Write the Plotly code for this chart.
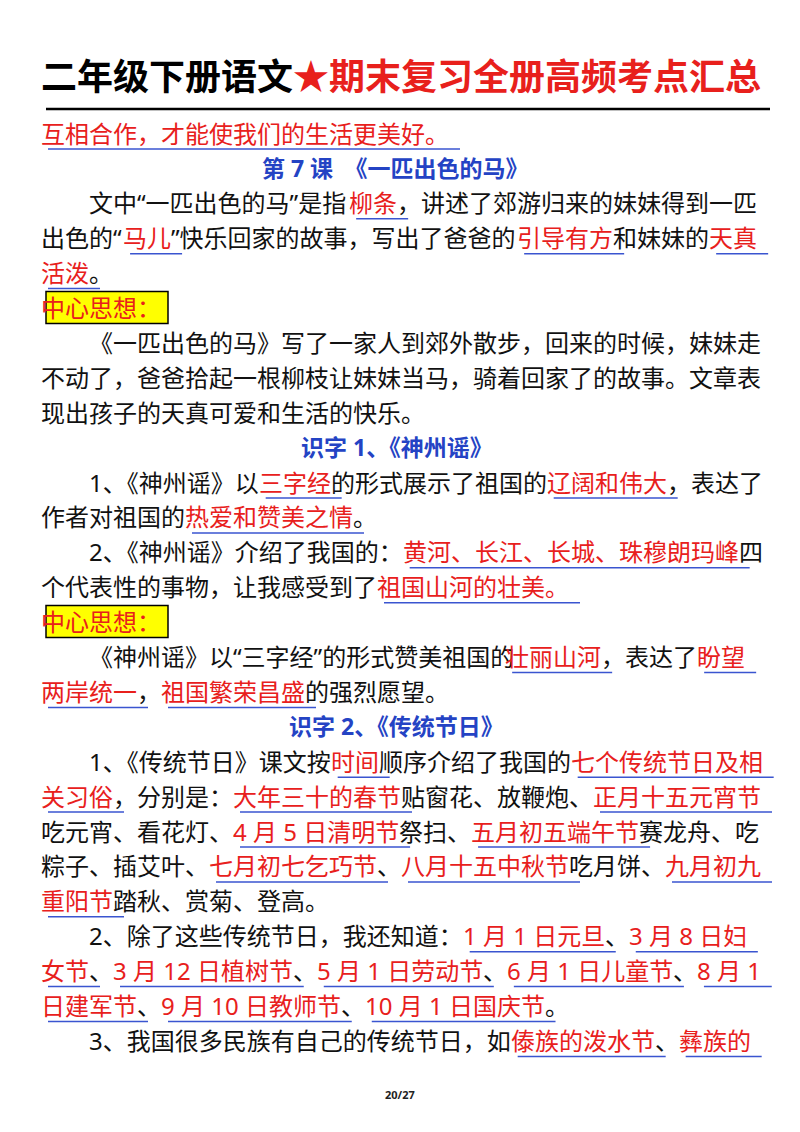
import re
import plotly.graph_objects as go

# page text; [ ... ] marks red, underlined words
title_black = "二年级下册语文"
title_red = "★期末复习全册高频考点汇总"
body_lines = [
    ("red", "[互相合作，才能使我们的生活更美好。]"),
    ("head", "第 7 课　《一匹出色的马》"),
    ("indent", "文中“一匹出色的马”是指[柳条]，讲述了郊游归来的妹妹得到一匹"),
    ("text", "出色的“[马儿]”快乐回家的故事，写出了爸爸的[引导有方]和妹妹的[天真]"),
    ("text", "[活泼]。"),
    ("box", "中心思想："),
    ("indent", "《一匹出色的马》写了一家人到郊外散步，回来的时候，妹妹走"),
    ("text", "不动了，爸爸拾起一根柳枝让妹妹当马，骑着回家了的故事。文章表"),
    ("text", "现出孩子的天真可爱和生活的快乐。"),
    ("head", "识字 1、《神州谣》"),
    ("indent", "1、《神州谣》以[三字经]的形式展示了祖国的[辽阔和伟大]，表达了"),
    ("text", "作者对祖国的[热爱和赞美之情]。"),
    ("indent", "2、《神州谣》介绍了我国的：[黄河、长江、长城、珠穆朗玛峰]四"),
    ("text", "个代表性的事物，让我感受到了[祖国山河的壮美。]"),
    ("box", "中心思想："),
    ("indent", "《神州谣》以“三字经”的形式赞美祖国的[壮丽山河]，表达了[盼望]"),
    ("text", "[两岸统一]，[祖国繁荣昌盛]的强烈愿望。"),
    ("head", "识字 2、《传统节日》"),
    ("indent", "1、《传统节日》课文按[时间]顺序介绍了我国的[七个传统节日及相]"),
    ("text", "[关习俗]，分别是：[大年三十的春节]贴窗花、放鞭炮、[正月十五元宵节]"),
    ("text", "吃元宵、看花灯、[4 月 5 日清明节]祭扫、[五月初五端午节]赛龙舟、吃"),
    ("text", "粽子、插艾叶、[七月初七乞巧节]、[八月十五中秋节]吃月饼、[九月初九]"),
    ("text", "[重阳节]踏秋、赏菊、登高。"),
    ("indent", "2、除了这些传统节日，我还知道：[1 月 1 日元旦]、[3 月 8 日妇]"),
    ("text", "[女节]、[3 月 12 日植树节]、[5 月 1 日劳动节]、[6 月 1 日儿童节]、[8 月 1]"),
    ("text", "[日建军节]、[9 月 10 日教师节]、[10 月 1 日国庆节]。"),
    ("indent", "3、我国很多民族有自己的传统节日，如[傣族的泼水节]、[彝族的]"),
]
page_label = "20/27"

FONT = "Noto Sans, Noto Sans CJK SC"
RED = "#e8201c"
BLUE = "#2443c4"
LINE_BLUE = "#3a55d0"
FS = 24
PAD = 9  # annotation inner offset


def w(s, fs=FS):
    tot = 0
    for c in s:
        if c == " ":
            tot += fs * 0.26
        elif c in "“”":
            tot += fs * 0.42
        elif c in "《》":
            tot += fs * 0.75
        elif ord(c) < 0x2000:
            tot += fs * 0.57
        else:
            tot += fs
    return tot


fig = go.Figure()
ann, shapes = [], []

# title
ty = 68
tw = w(title_black, 36) + w(title_red, 36)
x0 = 400 - tw / 2 - PAD
ann.append(dict(x=x0, y=ty, text=f"<b>{title_black}</b>", font=dict(size=36, color="black", family=FONT)))
ann.append(dict(x=x0 + w(title_black, 36), y=ty, text=f"<b>{title_red}</b>", font=dict(size=36, color=RED, family=FONT)))
shapes.append(dict(type="line", x0=38, x1=762, y0=101, y1=101, line=dict(color="black", width=2.5)))

y = 125
step = 34.9
for kind, line in body_lines:
    if kind == "head":
        hw = w(line)
        ann.append(dict(x=400 - hw / 2 - PAD, y=y, text=f"<b>{line}</b>", font=dict(size=FS - 1, color=BLUE, family=FONT)))
    elif kind == "box":
        shapes.append(dict(type="rect", x0=38, x1=160, y0=y - 16, y1=y + 16,
                           fillcolor="#ffff00", line=dict(color="black", width=1.5), layer="below"))
        ann.append(dict(x=40 - PAD, y=y, text=line, font=dict(size=FS, color=RED, family=FONT)))
    else:
        x = 88 if kind == "indent" else 40
        for part in re.split(r"(\[[^\]]*\])", line):
            if not part:
                continue
            red = part.startswith("[")
            seg = part.strip("[]")
            ann.append(dict(x=x - PAD, y=y, text=seg,
                            font=dict(size=FS, color=RED if red else "#111111", family=FONT)))
            sw = w(seg)
            if red:
                shapes.append(dict(type="line", x0=x, x1=x + sw + 4, y0=y + 16, y1=y + 16,
                                   line=dict(color=LINE_BLUE, width=1.5)))
            x += sw
    y += step

ann.append(dict(x=400 - w(page_label, 11) / 2 - PAD, y=1086, text=f"<b>{page_label}</b>",
                font=dict(size=11, color="#222", family=FONT)))

for a in ann:
    a.update(xref="x", yref="y", xanchor="left", yanchor="middle", showarrow=False)

fig.update_layout(
    width=800, height=1132, margin=dict(l=0, r=0, t=0, b=0),
    paper_bgcolor="white", plot_bgcolor="white",
    xaxis=dict(range=[0, 800], visible=False, fixedrange=True),
    yaxis=dict(range=[1132, 0], visible=False, fixedrange=True),
    annotations=ann, shapes=shapes, showlegend=False,
)
fig.write_html("out.html")
